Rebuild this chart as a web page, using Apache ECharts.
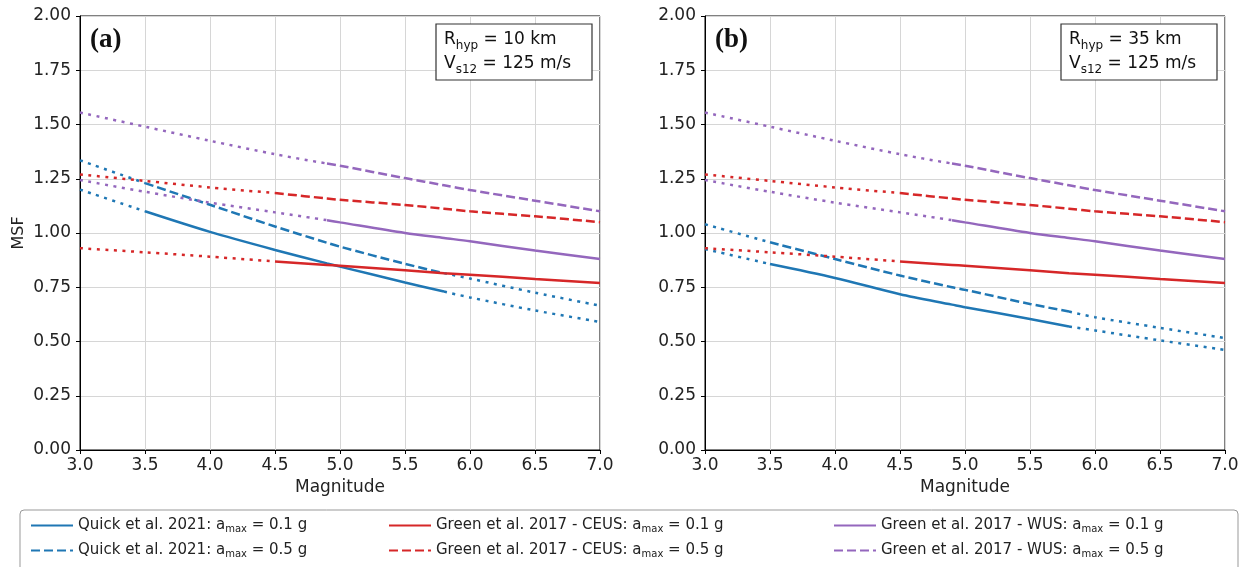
<!DOCTYPE html>
<html><head><meta charset="utf-8">
<script src="https://cdn.jsdelivr.net/npm/echarts@6/dist/echarts.min.js"></script>
<style>html,body{margin:0;padding:0;background:#fff}#c{width:1247px;height:567px}</style>
</head><body><div id="c"></div>
<script>
// ---- data ----
const mags = [3.0, 3.5, 4.0, 4.5, 4.9, 5.0, 5.5, 5.8, 6.0, 6.5, 7.0];
const xTicks = ['3.0','3.5','4.0','4.5','5.0','5.5','6.0','6.5','7.0'];
const yTicks = ['0.00','0.25','0.50','0.75','1.00','1.25','1.50','1.75','2.00'];
const quickA01 = [1.20, 1.10, 1.005, 0.922, 0.86, 0.845, 0.772, 0.73, 0.703, 0.643, 0.59];
const quickA05 = [1.335, 1.23, 1.13, 1.03, 0.955, 0.937, 0.858, 0.815, 0.79, 0.725, 0.665];
const quickB01 = [0.926, 0.857, 0.793, 0.718, 0.67, 0.658, 0.604, 0.569, 0.551, 0.505, 0.461];
const quickB05 = [1.04, 0.957, 0.88, 0.804, 0.75, 0.738, 0.673, 0.638, 0.612, 0.563, 0.516];
const ceus01 = [0.93, 0.911, 0.891, 0.869, 0.853, 0.849, 0.828, 0.815, 0.808, 0.788, 0.77];
const ceus05 = [1.27, 1.24, 1.21, 1.184, 1.159, 1.153, 1.129, 1.112, 1.10, 1.077, 1.05];
const wus01 = [1.244, 1.19, 1.14, 1.095, 1.059, 1.049, 1.00, 0.977, 0.962, 0.919, 0.88];
const wus05 = [1.555, 1.49, 1.425, 1.363, 1.32, 1.31, 1.253, 1.22, 1.198, 1.149, 1.10];
const quickRange = [3.5, 5.8];
const ceusRange = [4.5, 7.0];
const wusRange = [4.9, 7.0];
const legendNames = [
  'Quick et al. 2021: a_max = 0.1 g', 'Quick et al. 2021: a_max = 0.5 g',
  'Green et al. 2017 - CEUS: a_max = 0.1 g', 'Green et al. 2017 - CEUS: a_max = 0.5 g',
  'Green et al. 2017 - WUS: a_max = 0.1 g', 'Green et al. 2017 - WUS: a_max = 0.5 g'
];
const panels = [
  {tag: '(a)', rhyp: '10 km', vs: '125 m/s', quick01: quickA01, quick05: quickA05},
  {tag: '(b)', rhyp: '35 km', vs: '125 m/s', quick01: quickB01, quick05: quickB05}
];

// ---- styling ----
const BLUE = '#1f77b4', RED = '#d62728', PURPLE = '#9467bd';
const LW = 2.5;
const DOT = [3, 5.5];
const DASH = [9, 4];
const FONT = 'DejaVu Sans';
const grids = [
  {left: 80, top: 16, width: 520, height: 434},
  {left: 705, top: 16, width: 520, height: 434}
];

function seg(vals, a, b) {
  const out = [];
  mags.forEach((m, i) => { if (m >= a - 1e-9 && m <= b + 1e-9) out.push([m, vals[i]]); });
  return out;
}
function line(name, gi, data, color, type) {
  return {
    name: name, type: 'line', xAxisIndex: gi, yAxisIndex: gi, data: data,
    smooth: 0.3, showSymbol: false, symbol: 'none', silent: true,
    lineStyle: {color: color, width: LW, type: type, cap: 'butt'},
    itemStyle: {color: color}, animation: false
  };
}

const series = [];
panels.forEach((p, gi) => {
  const main = (k) => gi === 0 ? legendNames[k] : legendNames[k] + ' ';
  const curves = [
    {vals: p.quick01, range: quickRange, color: BLUE, type: 'solid', k: 0, post: true},
    {vals: p.quick05, range: quickRange, color: BLUE, type: DASH, k: 1, post: true},
    {vals: ceus01, range: ceusRange, color: RED, type: 'solid', k: 2},
    {vals: ceus05, range: ceusRange, color: RED, type: DASH, k: 3},
    {vals: wus01, range: wusRange, color: PURPLE, type: 'solid', k: 4},
    {vals: wus05, range: wusRange, color: PURPLE, type: DASH, k: 5}
  ];
  curves.forEach(c => {
    series.push(line('pre' + gi + c.k, gi, seg(c.vals, 3.0, c.range[0]), c.color, DOT));
    series.push(line(main(c.k), gi, seg(c.vals, c.range[0], c.range[1]), c.color, c.type));
    if (c.post) series.push(line('post' + gi + c.k, gi, seg(c.vals, c.range[1], 7.0), c.color, DOT));
  });
});

const xAxes = grids.map((g, i) => ({
  type: 'value', gridIndex: i, min: 3, max: 7, interval: 0.5,
  name: 'Magnitude', nameLocation: 'middle', nameGap: 29,
  nameTextStyle: {fontFamily: FONT, fontSize: 17, color: '#222'},
  axisLine: {show: true, onZero: false, lineStyle: {color: '#000', width: 1}},
  axisTick: {show: true, length: 4, lineStyle: {color: '#000'}},
  axisLabel: {fontFamily: FONT, fontSize: 17, color: '#222', margin: 7,
    formatter: v => xTicks[Math.round((v - 3) / 0.5)]},
  splitLine: {show: true, lineStyle: {color: '#d6d6d6', width: 1}}
}));
const yAxes = grids.map((g, i) => ({
  type: 'value', gridIndex: i, min: 0, max: 2, interval: 0.25,
  name: i === 0 ? 'MSF' : '', nameLocation: 'middle', nameGap: 53,
  nameTextStyle: {fontFamily: FONT, fontSize: 16, color: '#222'},
  axisLine: {show: true, onZero: false, lineStyle: {color: '#000', width: 1}},
  axisTick: {show: true, length: 4, lineStyle: {color: '#000'}},
  axisLabel: {fontFamily: FONT, fontSize: 17, color: '#222', margin: 9,
    formatter: v => yTicks[Math.round(v / 0.25)]},
  splitLine: {show: true, lineStyle: {color: '#d6d6d6', width: 1}}
}));

function legendFmt(name) {
  const parts = name.split('a_max');
  return '{n|' + parts[0] + 'a}{s|max}{n|' + parts[1] + '}';
}
const legendRich = {
  n: {fontFamily: FONT, fontSize: 15, color: '#222'},
  s: {fontFamily: FONT, fontSize: 10, color: '#222', verticalAlign: 'bottom', padding: [7, 0, 0, 0]}
};
const legendCols = [25, 383, 828];
const legends = legendCols.map((x, ci) => ({
  orient: 'vertical', left: x, top: 513, itemGap: 9, itemWidth: 42, itemHeight: 18,
  data: [legendNames[ci * 2], legendNames[ci * 2 + 1]],
  formatter: legendFmt, textStyle: {rich: legendRich}, selectedMode: false,
  itemStyle: {opacity: 0, borderWidth: 0}
}));

const graphics = [
  {type: 'rect', shape: {x: 20, y: 510, width: 1218, height: 70, r: 4},
   style: {fill: '#fff', stroke: '#999', lineWidth: 1}, z: -1}
];
panels.forEach((p, gi) => {
  const g = grids[gi];
  graphics.push({type: 'text', left: g.left + 10, top: 27,
    style: {text: p.tag, font: 'bold 27px "Liberation Serif", serif', fill: '#111'}});
  const bx = g.left + g.width - 164, by = 24;
  graphics.push({type: 'rect', shape: {x: bx, y: by, width: 156, height: 56},
    style: {fill: '#fff', stroke: '#333', lineWidth: 1.2}, z: 10});
  graphics.push({type: 'text', x: bx + 8, y: by + 4, z: 11,
    style: {text: '{n|R}{s|hyp}{n| = ' + p.rhyp + '}\n{n|V}{s|s12}{n| = ' + p.vs + '}',
      rich: {
        n: {fontFamily: FONT, fontSize: 17, fill: '#111', lineHeight: 24},
        s: {fontFamily: FONT, fontSize: 12, fill: '#111', verticalAlign: 'bottom', padding: [8, 0, 0, 0], lineHeight: 24}
      }}});
});

const chart = echarts.init(document.getElementById('c'), null, {renderer: 'canvas'});
chart.setOption({
  animation: false,
  backgroundColor: '#fff',
  grid: grids.map(g => Object.assign({show: true, borderColor: '#000', borderWidth: 1, backgroundColor: 'transparent'}, g)),
  xAxis: xAxes, yAxis: yAxes,
  legend: legends,
  series: series,
  graphic: graphics
});
</script></body></html>
